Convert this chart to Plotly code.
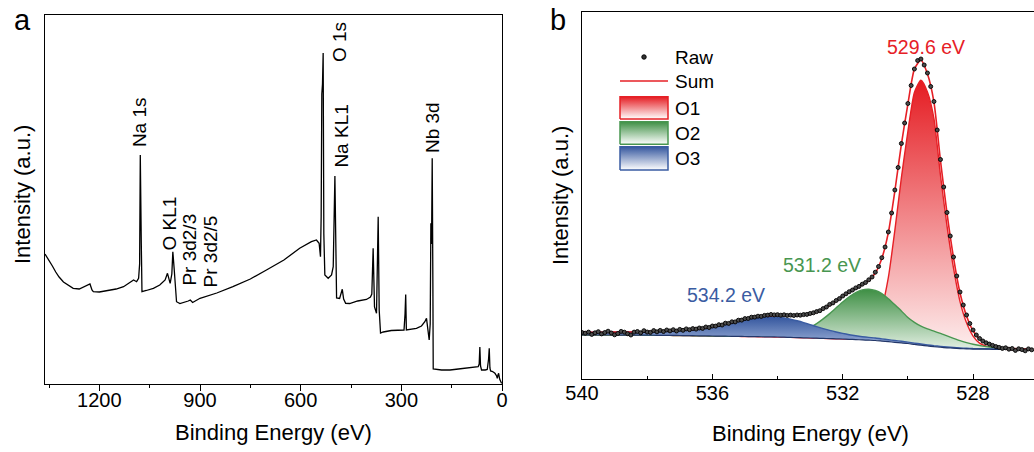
import plotly.graph_objects as go

FONT = "Liberation Sans, Arial, Helvetica, sans-serif"
W, H = 1034, 452

# ---------------- Panel a : XPS survey ----------------
survey_energy = [1362, 1350, 1340, 1330, 1320, 1307, 1290, 1278, 1260, 1248,
                 1236, 1228, 1222, 1218, 1200, 1185, 1168, 1150, 1128, 1110,
                 1098, 1089, 1083, 1080, 1078, 1075, 1073, 1060, 1039, 1020,
                 1004, 997, 989, 984, 981, 977, 974, 970, 960, 949,
                 935, 929, 922, 900, 850, 802, 750, 702, 650, 603,
                 580, 568, 553, 545, 541, 539, 537, 535, 533, 531,
                 528, 518, 508, 503, 498, 495, 493, 484, 476, 472,
                 466, 454, 430, 404, 392, 388, 384, 380, 374, 369,
                 366, 362, 354, 330, 304, 292, 289, 287, 285, 270,
                 255, 240, 230, 225, 220, 217, 214, 212, 210, 208,
                 206, 205, 180, 155, 130, 105, 85, 71, 68, 66,
                 64, 61, 50, 44, 40, 38, 36, 34, 28, 21,
                 16, 14, 12, 10, 7, 5, 1]
survey_counts = [130, 124, 118, 112, 107, 102, 98, 95.7, 95, 96.7,
                 99, 100, 94, 92.3, 92, 93, 94, 95, 97.3, 101,
                 104, 102.3, 105.7, 120, 229, 140, 92.3, 93.5, 95.7, 99,
                 104, 110.7, 100.7, 110, 132.3, 115, 104, 82.3, 80.5, 81.3,
                 83, 84, 81.5, 85.7, 91, 97.3, 105, 114, 124, 135.7,
                 140, 142.3, 144, 140.7, 127.3, 167, 290, 300, 331, 150,
                 109, 105.7, 109, 117.3, 208, 94, 86, 85.5, 94.7, 85,
                 80.7, 80.5, 83, 84.5, 87, 90, 135.7, 77, 70.7, 167.3,
                 74, 51, 52, 53.5, 54, 54, 70, 89.5, 54, 54.5,
                 55.7, 58, 62.3, 65.7, 55, 44, 60, 160.7, 140, 225.7,
                 100, 15, 14, 14, 15, 15.7, 16.5, 17.3, 20, 37,
                 18, 14, 14, 14.5, 25, 35.7, 16, 13, 12.5, 10.7,
                 8, 5.7, 9, 10.7, 5, 3, 0.5]

survey_labels = ["Na 1s", "O KL1", "Pr 3d2/3", "Pr 3d2/5", "O 1s", "Na KL1", "Nb 3d"]
survey_label_energy = [1080, 991, 934, 869, 484, 481, 207]
survey_label_height = [261.5, 161, 134, 133, 341.5, 248, 256.5]

# ---------------- Panel b : O 1s high resolution ----------------
fit_energy = [round(540.0 - 0.2 * i, 1) for i in range(70)]
fit_background = [44.0, 44.0, 44.0, 44.0, 44.0,
                  44.0, 43.96, 43.92, 43.88, 43.84,
                  43.8, 43.74, 43.68, 43.62, 43.56,
                  43.5, 43.4, 43.3, 43.2, 43.1,
                  43.0, 42.9, 42.8, 42.7, 42.6,
                  42.5, 42.4, 42.3, 42.2, 42.1,
                  42.0, 41.8, 41.6, 41.4, 41.2,
                  41.0, 40.8, 40.6, 40.4, 40.2,
                  40.0, 39.7, 39.4, 39.1, 38.8,
                  38.5, 37.9, 37.3, 36.7, 36.1,
                  35.5, 34.6, 33.8, 33.05, 32.3,
                  31.75, 31.2, 30.8, 30.4, 30.15,
                  29.9, 29.85, 29.8, 29.7, 29.6,
                  29.5, 29.45, 29.4, 29.35, 29.3]
fit_o1 = [0, 0, 0, 0, 0,
          0, 0, 0, 0, 0,
          0, 0, 0, 0, 0,
          0, 0, 0, 0, 0,
          0, 0, 0, 0, 0,
          0, 0, 0, 0, 0,
          0, 0, 0, 0, 0,
          0, 0, 0, 0, 0,
          0, 0, 0.5, 2, 6,
          15, 33, 64, 112, 165,
          212, 252, 265, 254, 228,
          172, 122, 80, 47, 26,
          13, 6, 3, 1.2, 0.5,
          0.2, 0, 0, 0, 0]
fit_o2 = [0, 0, 0, 0, 0,
          0, 0, 0, 0, 0,
          0, 0, 0, 0, 0,
          0, 0, 0, 0, 0,
          0, 0, 0, 0, 0,
          0.1, 0.2, 0.4, 0.7, 1.1,
          1.7, 2.5, 3.6, 5.2, 7.5,
          10.5, 14.5, 19.5, 25, 31,
          37, 42.5, 47, 50, 51,
          50, 47.5, 43, 37.5, 32,
          26, 22, 19, 17, 15.5,
          13.8, 11.9, 9.9, 8.0, 6.3,
          4.8, 3.6, 2.6, 1.8, 1.2,
          0.8, 0.5, 0.3, 0.2, 0.1]
fit_o3 = [2.7, 2.7, 2.7, 2.8, 2.8,
          2.9, 3.0, 3.1, 3.2, 3.4,
          3.6, 3.9, 4.2, 4.6, 5.0,
          5.4, 5.8, 6.3, 7.0, 8.0,
          9.2, 10.6, 12.2, 13.8, 15.5,
          17.2, 18.5, 19.3, 19.8, 20.0,
          19.8, 19.2, 18.2, 16.8, 15.2,
          13.4, 11.5, 9.8, 8.2, 6.8,
          5.6, 4.6, 3.8, 3.2, 2.8,
          2.5, 2.2, 2.0, 1.8, 1.6,
          1.4, 1.3, 1.2, 1.1, 1.0,
          0.9, 0.8, 0.7, 0.65, 0.6,
          0.55, 0.5, 0.5, 0.45, 0.45,
          0.4, 0.4, 0.4, 0.4, 0.4]

raw_counts = [46.5, 45.8, 46.9, 44.6, 46.2, 47.3, 45.1, 46.5, 47.8, 46.0,
              44.2, 45.5, 47.6, 46.8, 45.3, 44.0, 46.9, 47.5, 46.2, 48.3,
              47.0, 46.6, 48.4, 47.2, 48.6, 47.5, 49.0, 48.1, 49.3, 48.0,
              49.6, 48.7, 50.1, 49.3, 50.4, 49.9, 51.0, 50.6, 52.0, 51.5,
              53.0, 52.9, 54.3, 54.0, 55.8, 55.6, 57.2, 57.1, 58.8, 58.9,
              60.4, 60.5, 61.8, 61.9, 62.8, 62.6, 63.6, 63.9, 64.5, 64.1,
              64.3, 63.8, 64.2, 63.6, 63.9, 63.5, 64.0, 63.8, 64.4, 64.6,
              65.5, 66.2, 67.4, 68.3, 70.4, 72.0, 74.6, 76.1, 78.5, 80.4,
              83.0, 85.2, 87.3, 89.0, 91.1, 92.6, 94.8, 96.5, 99.2, 102.0,
              106.8, 112.5, 121.3, 132.0, 147.0, 166.0, 189.0, 211.5, 235.5, 256.0,
              275.5, 293.5, 310.0, 318.5, 320.0, 314.0, 306.0, 292.5, 277.5, 249.0,
              219.5, 192.0, 166.5, 143.0, 122.0, 103.0, 87.0, 74.0, 64.0, 55.5,
              49.0, 44.0, 40.5, 38.0, 36.2, 34.9, 33.6, 32.4, 31.6, 30.6,
              31.2, 29.8, 30.5, 28.6, 30.2, 29.4, 28.2, 30.1, 29.2]
raw_energy = [round(540.0 - 0.1 * i, 1) for i in range(len(raw_counts))]

components = ["O1", "O2", "O3"]
peak_labels = ["529.6 eV", "531.2 eV", "534.2 eV"]
peak_label_energy = [529.45, 532.65, 535.59]
peak_label_height = [332.3, 114, 84]

# ---------------- styles ----------------
RED = "rgb(230,32,38)"
GREEN = "rgb(72,150,80)"
BLUE = "rgb(58,92,162)"
comp_lines = [RED, GREEN, BLUE]
comp_scales = [
    [[0, "rgb(253,238,238)"], [1, "rgb(229,28,34)"]],
    [[0, "rgb(228,240,228)"], [1, "rgb(62,143,68)"]],
    [[0, "rgb(172,190,225)"], [1, "rgb(52,86,158)"]],
]
legend_scales = [
    [[0, "rgb(255,255,255)"], [1, "rgb(229,28,34)"]],
    [[0, "rgb(255,255,255)"], [1, "rgb(62,143,68)"]],
    [[0, "rgb(255,255,255)"], [1, "rgb(52,86,158)"]],
]


def pxx(x):
    return x / W


def pxy(y):
    return 1 - y / H


fig = go.Figure()

# Panel a
fig.add_trace(go.Scatter(x=survey_energy, y=survey_counts, mode="lines",
                         line=dict(color="black", width=1.3),
                         xaxis="x", yaxis="y", showlegend=False))

# Panel b: components filled from the background
comp_values = [fit_o1, fit_o2, fit_o3]
for name, vals, lc, cs in zip(components, comp_values, comp_lines, comp_scales):
    top = [b + v for b, v in zip(fit_background, vals)]
    fig.add_trace(go.Scatter(x=fit_energy, y=fit_background, mode="lines",
                             line=dict(width=0, shape="spline", smoothing=0.6),
                             xaxis="x2", yaxis="y2", showlegend=False, hoverinfo="skip"))
    fig.add_trace(go.Scatter(x=fit_energy, y=top, mode="lines", name=name,
                             line=dict(color=lc, width=1.4, shape="spline", smoothing=0.6),
                             fill="tonexty",
                             fillgradient=dict(type="vertical", colorscale=cs),
                             xaxis="x2", yaxis="y2", showlegend=False))

fig.add_trace(go.Scatter(x=fit_energy, y=fit_background, mode="lines",
                         line=dict(color="rgb(35,55,105)", width=1.2, shape="spline", smoothing=0.6),
                         xaxis="x2", yaxis="y2", showlegend=False))

fit_sum = [b + a + c + d for b, a, c, d in zip(fit_background, fit_o1, fit_o2, fit_o3)]
fig.add_trace(go.Scatter(x=fit_energy, y=fit_sum, mode="lines", name="Sum",
                         line=dict(color=RED, width=1.6, shape="spline", smoothing=0.6),
                         xaxis="x2", yaxis="y2", showlegend=False))
fig.add_trace(go.Scatter(x=raw_energy, y=raw_counts, mode="markers", name="Raw",
                         marker=dict(symbol="circle", size=4, color="rgb(75,75,75)",
                                     line=dict(color="black", width=0.9)),
                         xaxis="x2", yaxis="y2", showlegend=False))

# Legend keys for panel b (drawn on an overlay axis measured in pixels)
fig.add_trace(go.Scatter(x=[644], y=[H - 57], mode="markers",
                         marker=dict(symbol="circle", size=4.5, color="rgb(50,50,50)",
                                     line=dict(color="black", width=0.9)),
                         xaxis="x3", yaxis="y3", showlegend=False, hoverinfo="skip"))
fig.add_trace(go.Scatter(x=[620, 668], y=[H - 81, H - 81], mode="lines",
                         line=dict(color=RED, width=1.5),
                         xaxis="x3", yaxis="y3", showlegend=False, hoverinfo="skip"))
key_tops = [96.7, 121.7, 146.7]
key_bottoms = [119, 144.3, 170]
for t, b, lc, cs in zip(key_tops, key_bottoms, comp_lines, legend_scales):
    fig.add_trace(go.Scatter(x=[620, 668, 668, 620, 620],
                             y=[H - b, H - b, H - t, H - t, H - b],
                             mode="lines", fill="toself",
                             fillgradient=dict(type="vertical", colorscale=cs),
                             line=dict(color=lc, width=1.5),
                             xaxis="x3", yaxis="y3", showlegend=False, hoverinfo="skip"))

legend_texts = ["Raw", "Sum", "O1", "O2", "O3"]
legend_text_y = [57, 82, 108, 133, 158]

annotations = []
for t, ly in zip(legend_texts, legend_text_y):
    annotations.append(dict(text=t, x=pxx(673), y=pxy(ly), xref="paper", yref="paper",
                            xanchor="left", yanchor="middle", showarrow=False,
                            font=dict(family=FONT, size=19, color="black")))

for t, e, h in zip(survey_labels, survey_label_energy, survey_label_height):
    annotations.append(dict(text=t, x=e, y=h, xref="x", yref="y", textangle=-90,
                            xanchor="center", yanchor="middle", showarrow=False,
                            font=dict(family=FONT, size=19, color="black")))

for t, e, h, c in zip(peak_labels, peak_label_energy, peak_label_height, comp_lines):
    annotations.append(dict(text=t, x=e, y=h, xref="x2", yref="y2",
                            xanchor="center", yanchor="middle", showarrow=False,
                            font=dict(family=FONT, size=19.5, color=c)))

# axis titles and panel letters
title_font = dict(family=FONT, size=22, color="black")
annotations += [
    dict(text="Binding Energy (eV)", x=pxx(273), y=pxy(432), xref="paper", yref="paper",
         xanchor="center", yanchor="middle", showarrow=False, font=title_font),
    dict(text="Intensity (a.u.)", x=pxx(23), y=pxy(195), xref="paper", yref="paper",
         textangle=-90, xanchor="center", yanchor="middle", showarrow=False, font=title_font),
    dict(text="Binding Energy (eV)", x=pxx(810), y=pxy(433), xref="paper", yref="paper",
         xanchor="center", yanchor="middle", showarrow=False, font=title_font),
    dict(text="Intensity (a.u.)", x=pxx(560), y=pxy(196), xref="paper", yref="paper",
         textangle=-90, xanchor="center", yanchor="middle", showarrow=False, font=title_font),
    dict(text="a", x=pxx(22), y=pxy(20), xref="paper", yref="paper",
         xanchor="center", yanchor="middle", showarrow=False,
         font=dict(family=FONT, size=29, color="black")),
    dict(text="b", x=pxx(558), y=pxy(20), xref="paper", yref="paper",
         xanchor="center", yanchor="middle", showarrow=False,
         font=dict(family=FONT, size=29, color="black")),
]

axis_common = dict(showline=True, linecolor="black", linewidth=1.3, showgrid=False,
                   zeroline=False, tickfont=dict(family=FONT, size=20, color="black"),
                   tickcolor="black", fixedrange=True)

fig.update_layout(
    width=W, height=H,
    margin=dict(l=0, r=0, t=0, b=0),
    paper_bgcolor="white", plot_bgcolor="rgba(0,0,0,0)",
    template="none",
    showlegend=False,
    xaxis=dict(domain=[pxx(45), pxx(502)], range=[1362, 0], anchor="y",
               mirror=True, ticks="outside", ticklen=6, tickwidth=1.2,
               tick0=0, dtick=300, ticklabelposition="outside", ticklabelstandoff=-8,
               minor=dict(dtick=150, tick0=0, ticks="outside", ticklen=3, tickwidth=1.2,
                          tickcolor="black", showgrid=False),
               **axis_common),
    yaxis=dict(domain=[pxy(384), pxy(15)], range=[0, 369], anchor="x",
               mirror=True, ticks="", showticklabels=False, **axis_common),
    xaxis2=dict(domain=[pxx(582), 1.0], range=[540, 526.13], anchor="y2",
                mirror=True, ticks="inside", ticklen=5, tickwidth=1.2,
                tick0=528, dtick=4, ticklabelposition="outside", ticklabelstandoff=-4,
                minor=dict(dtick=2, tick0=528, ticks="inside", ticklen=3, tickwidth=1.2,
                           tickcolor="black", showgrid=False),
                **axis_common),
    yaxis2=dict(domain=[pxy(379), pxy(12)], range=[0, 367], anchor="x2",
                mirror=False, ticks="", showticklabels=False, **axis_common),
    xaxis3=dict(domain=[0, 1], range=[0, W], visible=False, anchor="y3", fixedrange=True),
    yaxis3=dict(domain=[0, 1], range=[0, H], visible=False, anchor="x3", fixedrange=True),
    annotations=annotations,
)

fig.write_html("out.html")
